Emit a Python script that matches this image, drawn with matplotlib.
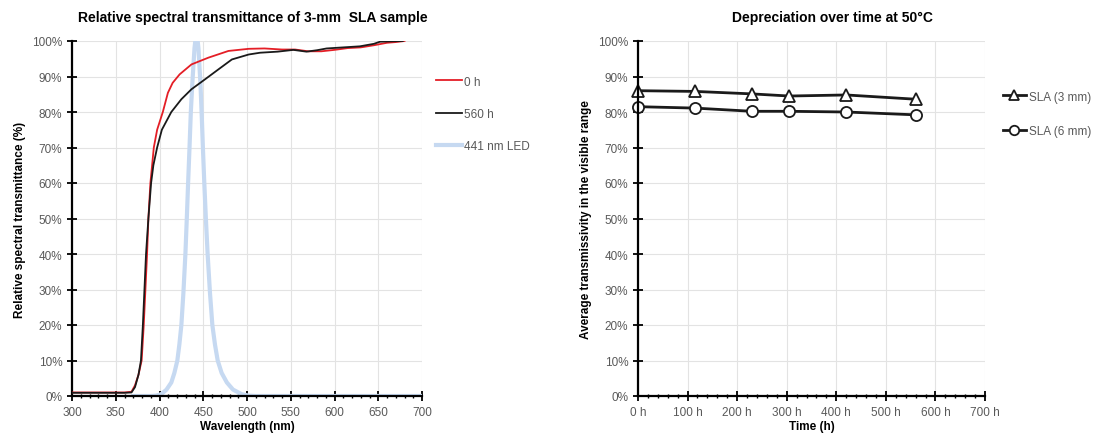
import numpy as np
import matplotlib
matplotlib.use("Agg")
import matplotlib.pyplot as plt
from matplotlib.ticker import MultipleLocator, FuncFormatter

plt.rcParams['font.family'] = ['Liberation Sans', 'DejaVu Sans']

# spectral transmittance, 0 h
wl_0h = [300, 330, 360, 368, 372, 376, 379.6, 382, 385.8, 387.3, 389.6, 393.5, 397.3,
         403.8, 409.6, 415, 423, 436.5, 455.8, 478.8, 502, 520, 540, 555, 570, 585,
         600, 615, 630, 645, 660, 670, 680]
tr_0h = [1.0, 1.0, 1.0, 1.2, 3, 6, 10, 20, 40, 50, 60, 70, 75,
         80, 85.4, 88.2, 90.6, 93.4, 95.3, 97.2, 97.8, 97.9, 97.6, 97.6, 97.1, 97.1,
         97.5, 98.0, 98.2, 98.8, 99.5, 99.7, 100]

# spectral transmittance, 560 h
wl_560h = [300, 330, 360, 368, 372, 376, 378.8, 381, 384.6, 387.3, 390.4, 393, 397.3,
           402.7, 413.5, 425, 436.5, 452, 467.3, 482.7, 502, 515, 535, 553, 568, 580,
           591, 610, 629, 645, 652, 665, 678]
tr_560h = [0.9, 0.9, 0.9, 1.0, 2.5, 6, 10, 20, 40, 50, 60, 65, 70,
           75, 80, 83.6, 86.4, 89.2, 92, 94.8, 96.2, 96.7, 97, 97.5, 97, 97.4,
           97.9, 98.2, 98.5, 99.2, 99.8, 99.9, 100]

# 441 nm LED emission (relative)
wl_led = [370, 390, 396, 402, 408, 413.5, 417, 420.4, 422.7, 425, 427.3, 429.6, 431.2,
          432.7, 434.3, 435.8, 437.5, 440, 442.3, 444.5, 446.8, 448.1, 449.6, 451.2,
          453, 455, 457.7, 460.4, 463.4, 466.5, 471, 477, 484, 494, 502, 510, 700]
em_led = [0, 0, 0.1, 0.5, 1.8, 3.8, 6.5, 10, 14.5, 20, 29, 40, 50,
          60, 70, 80, 88, 98, 103, 98, 88, 80, 70, 60,
          50, 40, 29, 20, 14.5, 10, 6.5, 3.8, 1.8, 0.5, 0.1, 0, 0]

# average transmissivity vs time
time_h = [0, 115, 230, 305, 420, 560]
sla_3mm = [86.0, 85.8, 85.1, 84.5, 84.8, 83.6]
sla_6mm = [81.5, 81.1, 80.2, 80.2, 80.0, 79.2]

grey = '#595959'
grid_c = '#e3e3e3'

fig = plt.figure(figsize=(10.95, 4.39), dpi=100)
ax1 = fig.add_axes([72 / 1095, 42 / 439, 350 / 1095, 355 / 439])
ax2 = fig.add_axes([638 / 1095, 42 / 439, 347 / 1095, 355 / 439])


def style(ax):
    for s in ['top', 'right']:
        ax.spines[s].set_visible(False)
    for s in ['left', 'bottom']:
        ax.spines[s].set_linewidth(1.6)
        ax.spines[s].set_color('black')
    ax.tick_params(which='major', direction='inout', length=7, width=1.3,
                   colors='black', labelcolor=grey, labelsize=8.5)
    ax.tick_params(which='minor', direction='inout', length=3.5, width=1.0,
                   colors='black')
    ax.tick_params(axis='y', which='minor', left=False)
    ax.grid(True, which='major', color=grid_c, linewidth=0.8)
    ax.set_axisbelow(True)
    ax.set_ylim(0, 100)
    ax.yaxis.set_major_locator(MultipleLocator(10))
    ax.yaxis.set_major_formatter(FuncFormatter(lambda v, p: '%d%%' % v))


# left chart
style(ax1)
ax1.plot(wl_led, em_led, color='#c6d9f1', lw=3, label='441 nm LED', zorder=2)
ax1.plot(wl_0h, tr_0h, color='#e41e26', lw=1.3, label='0 h', zorder=3)
ax1.plot(wl_560h, tr_560h, color='#1a1a1a', lw=1.3, label='560 h', zorder=3)
ax1.set_xlim(300, 700)
ax1.xaxis.set_major_locator(MultipleLocator(50))
ax1.xaxis.set_minor_locator(MultipleLocator(10))
ax1.set_xlabel('Wavelength (nm)', fontsize=8.5, fontweight='bold', labelpad=2)
ax1.set_ylabel('Relative spectral transmittance (%)', fontsize=8.5,
               fontweight='bold', labelpad=4)
h, l = ax1.get_legend_handles_labels()
order = [1, 2, 0]
ax1.legend([h[i] for i in order], [l[i] for i in order], loc='upper left',
           bbox_to_anchor=(425 / 1095, 1 - 66 / 439), bbox_transform=fig.transFigure,
           frameon=False, fontsize=8.5, handlelength=2.2, handletextpad=0.2,
           labelspacing=1.7, labelcolor=grey)
fig.text(253 / 1095, 1 - 18 / 439, 'Relative spectral transmittance of 3-mm  SLA sample',
         ha='center', va='center', fontsize=10, fontweight='bold')

# right chart
style(ax2)
ax2.plot(time_h, sla_3mm, color='#1a1a1a', lw=2, marker='^', ms=8,
         mfc='white', mec='#1a1a1a', mew=1.3, label='SLA (3 mm)', clip_on=False)
ax2.plot(time_h, sla_6mm, color='#1a1a1a', lw=2, marker='o', ms=8,
         mfc='white', mec='#1a1a1a', mew=1.3, label='SLA (6 mm)', clip_on=False)
ax2.set_xlim(0, 700)
ax2.xaxis.set_major_locator(MultipleLocator(100))
ax2.xaxis.set_minor_locator(MultipleLocator(20))
ax2.xaxis.set_major_formatter(FuncFormatter(lambda v, p: '%d h' % v))
ax2.set_xlabel('Time (h)', fontsize=8.5, fontweight='bold', labelpad=2)
ax2.set_ylabel('Average transmissivity in the visible range', fontsize=8.5,
               fontweight='bold', labelpad=4)
ax2.legend(loc='upper left', bbox_to_anchor=(992 / 1095, 1 - 81 / 439),
           bbox_transform=fig.transFigure, frameon=False, fontsize=8.5,
           markerscale=0.85, handlelength=2.0, handletextpad=0.2,
           labelspacing=1.9, labelcolor=grey)
fig.text(832 / 1095, 1 - 18 / 439, 'Depreciation over time at 50°C',
         ha='center', va='center', fontsize=10, fontweight='bold')

fig.savefig('out.png', dpi=100)
